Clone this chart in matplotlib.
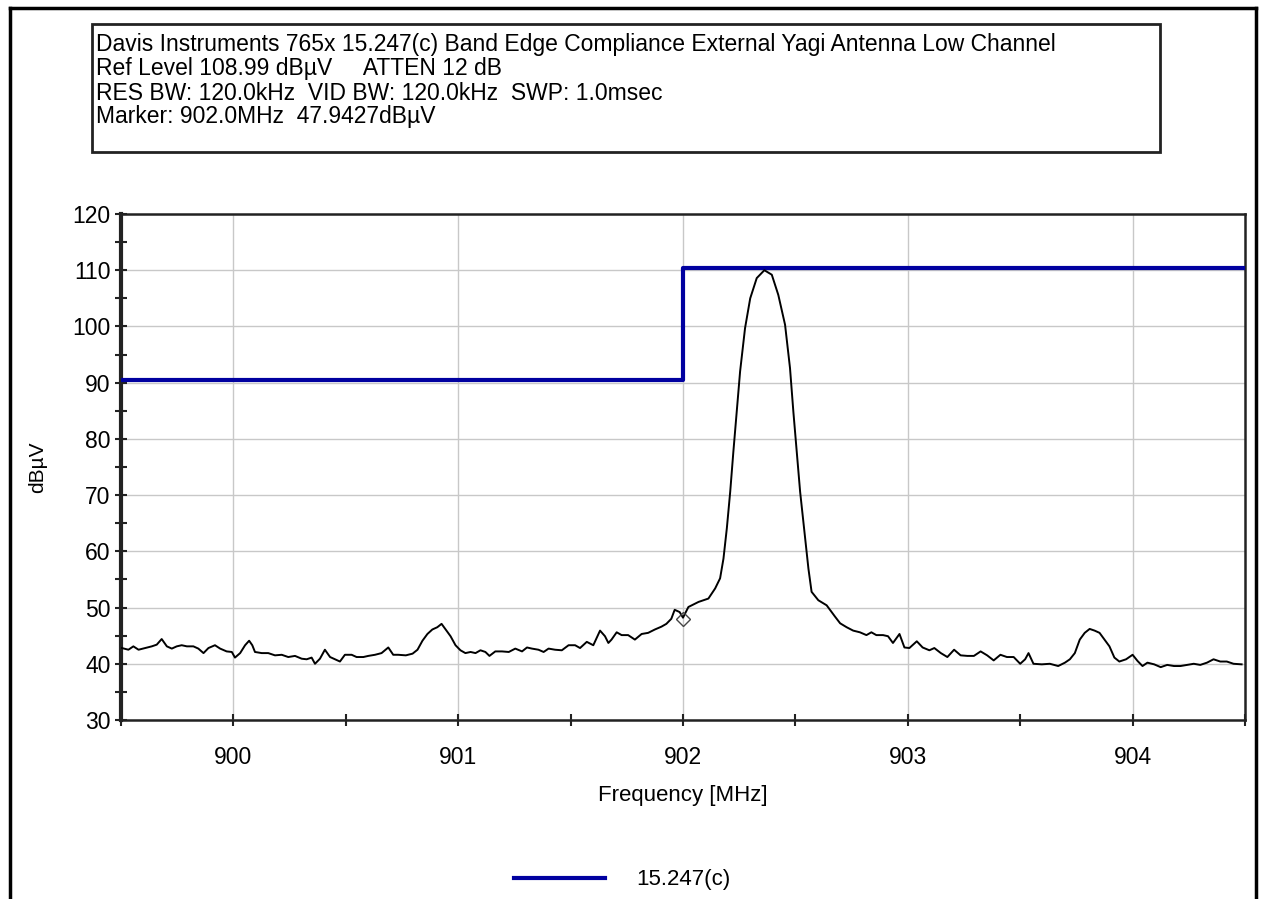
import matplotlib
matplotlib.use("Agg")
import matplotlib.pyplot as plt
from matplotlib.patches import Rectangle
from matplotlib.lines import Line2D
from matplotlib.ticker import MultipleLocator

plt.rcParams['font.family'] = ['Liberation Sans', 'DejaVu Sans']

freq = [
    899.504, 899.533, 899.555, 899.578, 899.607, 899.637, 899.659, 899.681, 899.704, 899.726,
    899.748, 899.770, 899.793, 899.822, 899.844, 899.867, 899.889, 899.918, 899.941, 899.970,
    899.993, 900.007, 900.030, 900.052, 900.070, 900.084, 900.096, 900.126, 900.155, 900.185,
    900.215, 900.244, 900.274, 900.304, 900.326, 900.348, 900.363, 900.385, 900.407, 900.430,
    900.452, 900.474, 900.496, 900.526, 900.548, 900.578, 900.600, 900.630, 900.659, 900.689,
    900.711, 900.733,
    900.767, 900.797, 900.819, 900.841, 900.863, 900.885, 900.907, 900.926, 900.944, 900.966,
    900.988, 901.010, 901.032, 901.055, 901.077, 901.099, 901.121, 901.139, 901.165, 901.195,
    901.225, 901.254, 901.284, 901.306, 901.328, 901.357, 901.380, 901.402, 901.431, 901.461,
    901.491, 901.520, 901.542, 901.572, 901.601, 901.631, 901.653, 901.668, 901.682, 901.705,
    901.727, 901.756, 901.786, 901.816, 901.845, 901.875, 901.904, 901.926, 901.948, 901.963,
    901.985, 902.000,
    902.024, 902.069, 902.113, 902.143, 902.165, 902.180, 902.195, 902.210, 902.224, 902.239,
    902.254, 902.276, 902.299, 902.328, 902.362, 902.395, 902.424, 902.454, 902.476, 902.491,
    902.506, 902.521, 902.540, 902.558, 902.572, 902.602, 902.639,
    902.676, 902.699, 902.728, 902.757, 902.787, 902.816, 902.838, 902.860, 902.890, 902.912,
    902.934, 902.963, 902.985, 903.007, 903.040, 903.066, 903.096, 903.118, 903.147, 903.176,
    903.206, 903.235, 903.265, 903.294, 903.324, 903.353, 903.382, 903.412, 903.441, 903.471,
    903.500, 903.522, 903.537, 903.559, 903.596, 903.632, 903.669, 903.699, 903.721, 903.743,
    903.765, 903.787, 903.809, 903.831, 903.853, 903.875, 903.897, 903.919, 903.941, 903.971,
    904.000, 904.022, 904.044, 904.066, 904.096, 904.125, 904.154, 904.184, 904.213, 904.243,
    904.272, 904.301, 904.331, 904.360, 904.390, 904.419, 904.449, 904.485,
]
level = [
    42.8, 42.5, 43.1, 42.5, 42.8, 43.1, 43.4, 44.4, 43.1, 42.7,
    43.1, 43.3, 43.1, 43.1, 42.7, 41.9, 42.8, 43.3, 42.7, 42.2,
    42.1, 41.1, 41.9, 43.3, 44.1, 43.3, 42.1, 41.9, 41.9, 41.5,
    41.6, 41.2, 41.4, 40.9, 40.8, 41.1, 40.0, 40.9, 42.5, 41.2,
    40.8, 40.4, 41.6, 41.6, 41.2, 41.2, 41.4, 41.6, 41.9, 42.9,
    41.6, 41.6,
    41.5, 41.8, 42.5, 44.1, 45.3, 46.1, 46.5, 47.1, 46.1, 44.9,
    43.3, 42.4, 41.9, 42.1, 41.9, 42.4, 42.1, 41.4, 42.2, 42.2,
    42.1, 42.7, 42.2, 42.9, 42.7, 42.5, 42.1, 42.7, 42.5, 42.4,
    43.3, 43.3, 42.8, 43.9, 43.3, 45.9, 44.9, 43.7, 44.3, 45.6,
    45.1, 45.1, 44.3, 45.3, 45.5, 46.1, 46.6, 47.1, 48.0, 49.6,
    49.2, 48.2,
    50.1, 51.0, 51.6, 53.4, 55.2, 58.7, 64.1, 70.6, 77.7, 84.8,
    92.0, 99.7, 105.0, 108.6, 110.0, 109.2, 105.6, 100.3, 92.6, 84.8,
    77.7, 70.6, 63.5, 56.9, 52.8, 51.3, 50.4,
    48.4, 47.2, 46.5, 45.9, 45.6, 45.1, 45.6, 45.1, 45.1, 44.9,
    43.7, 45.3, 42.9, 42.8, 44.0, 42.9, 42.4, 42.8, 41.9, 41.2,
    42.5, 41.5, 41.4, 41.4, 42.2, 41.5, 40.6, 41.6, 41.2, 41.2,
    40.0, 40.8, 41.9, 40.0, 39.9, 40.0, 39.6, 40.2, 40.8, 41.9,
    44.3, 45.5, 46.2, 45.9, 45.5, 44.3, 43.1, 41.1, 40.4, 40.8,
    41.6, 40.5, 39.6, 40.2, 39.9, 39.4, 39.8, 39.6, 39.6, 39.8,
    40.0, 39.8, 40.2, 40.8, 40.4, 40.4, 40.0, 39.9,
]

# 15.247(c) limit line
limit_freq = [899.5, 902.0, 902.0, 904.5]
limit_level = [90.4, 90.4, 110.4, 110.4]

marker_freq = 902.0
marker_level = 47.9427

header = [
    "Davis Instruments 765x 15.247(c) Band Edge Compliance External Yagi Antenna Low Channel",
    "Ref Level 108.99 dB\u00b5V     ATTEN 12 dB",
    "RES BW: 120.0kHz  VID BW: 120.0kHz  SWP: 1.0msec",
    "Marker: 902.0MHz  47.9427dB\u00b5V",
]

W, H = 1262, 899
fig = plt.figure(figsize=(W / 100, H / 100), dpi=100)
ax = fig.add_axes([121 / W, 1 - 720 / H, (1245 - 121) / W, (720 - 214) / H])

ax.grid(True, color='#c8c8c8', lw=1)
ax.set_axisbelow(True)
ax.plot(limit_freq, limit_level, color='#0000a0', lw=3, label='15.247(c)', zorder=3)
ax.plot(freq, level, color='black', lw=1.4, zorder=4)
ax.plot([marker_freq], [marker_level], marker='D', ms=7, mfc='none', mec='#444444', mew=1, zorder=5)

ax.set_xlim(899.5, 904.5)
ax.set_ylim(30, 120)
ax.xaxis.set_major_locator(MultipleLocator(1))
ax.xaxis.set_minor_locator(MultipleLocator(0.5))
ax.yaxis.set_major_locator(MultipleLocator(10))
ax.yaxis.set_minor_locator(MultipleLocator(5))
ax.tick_params(which='both', direction='inout', length=9, width=1.5, labelsize=16.5, color='#222222')
ax.tick_params(axis='x', pad=14)
ax.tick_params(axis='y', pad=3)
for side in ['top', 'right', 'bottom']:
    ax.spines[side].set_linewidth(1.8)
    ax.spines[side].set_color('#222222')
ax.spines['left'].set_linewidth(3)
ax.spines['left'].set_color('#222222')

ax.set_xlabel('Frequency [MHz]', fontsize=16, labelpad=12)
ax.set_ylabel('dB\u00b5V', fontsize=15, labelpad=18)

leg = fig.legend(handles=ax.get_lines()[:1], loc='center left',
                 bbox_to_anchor=(494 / W, 1 - 880 / H), frameon=False,
                 fontsize=16, handlelength=4.1, handletextpad=1.4)

# header box
fig.add_artist(Rectangle((92 / W, 1 - 152 / H), (1160 - 92) / W, (152 - 24) / H,
                         transform=fig.transFigure, fill=False, ec='#222222', lw=2))
for i, line in enumerate(header):
    fig.text(96 / W, 1 - (45 + 24 * i) / H, line, fontsize=16.5, va='center', ha='left')

# outer frame
fig.add_artist(Line2D([10 / W, 10 / W], [0, 1 - 8 / H], transform=fig.transFigure, color='black', lw=2.5))
fig.add_artist(Line2D([10 / W, 1256 / W], [1 - 8 / H, 1 - 8 / H], transform=fig.transFigure, color='black', lw=2.5))
fig.add_artist(Line2D([1256 / W, 1256 / W], [0, 1 - 8 / H], transform=fig.transFigure, color='black', lw=2.5))

fig.savefig('out.png', dpi=100)
